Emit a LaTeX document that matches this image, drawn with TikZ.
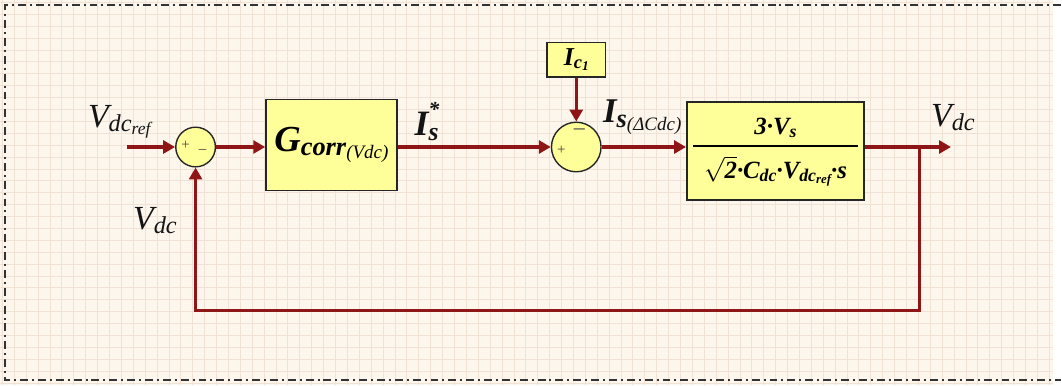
\documentclass[tikz,border=0pt]{standalone}
\usepackage{fontspec}
\setmainfont{Liberation Serif}
\usetikzlibrary{arrows.meta,positioning}
\definecolor{sheet}{HTML}{FDF6EC}
\definecolor{gridln}{HTML}{F0E2D4}
\definecolor{wire}{HTML}{8E1616}
\definecolor{blockfill}{HTML}{FFFF99}
\newcommand{\lw}[1]{\raisebox{-.12em}{\scalebox{.72}{#1}}}

\begin{document}
\begin{tikzpicture}[x=1pt, y=-1pt,
    every node/.style={align=center},
    lbl/.style={font=\fontsize{34}{36}\selectfont\itshape, text=black!92, inner sep=0pt},
    blk/.style={rectangle, draw=black!85, line width=1.6pt, fill=blockfill, inner sep=0pt},
    sumpt/.style={circle, draw=black!85, line width=1.4pt, fill=blockfill, inner sep=0pt},
    sgn/.style={font=\fontsize{15}{15}\selectfont, text=black!75, inner sep=0pt},
    arr/.style={-{Triangle[length=12pt,width=13pt]}, line width=3.2pt, draw=wire},
    back/.style={line width=3.2pt, draw=wire}
  ]
  % sheet with grid and frame
  \fill[sheet] (0,0) rectangle (1062,388);
  \foreach \gx in {2,14,...,1062} \draw[gridln, line width=.6pt] (\gx,0) -- (\gx,388);
  \foreach \gy in {2,14,...,388} \draw[gridln, line width=.6pt] (0,\gy) -- (1062,\gy);
  \draw[black!80, line width=2pt, dash pattern=on 8pt off 4pt on 2pt off 4pt]
    (1070,5) -- (5,5) -- (5,383) -- (1070,383);

  % blocks
  \node[sumpt, minimum size=40pt] (s1) at (197,148) {};
  \node[sgn] (p1) at (187,146) {+};
  \node[sgn] (m1) at (204,150) {\_};

  \node[blk, minimum width=132pt, minimum height=92pt] (gc) at (334,146)
    {\fontsize{37}{37}\selectfont\bfseries\itshape G\lw{corr\lw{\mdseries(Vdc)}}};

  \node[blk, minimum width=59pt, minimum height=35pt] (ic) at (581,60)
    {\fontsize{26}{26}\selectfont\bfseries\itshape I\lw{c\lw{1}}};

  \node[sumpt, minimum size=50pt] (s2) at (581,148) {};
  \node[sgn] (p2) at (566,151) {+};
  \node[sgn, font=\fontsize{22}{22}\selectfont] (m2) at (584,133) {\textendash};

  \node[blk, minimum width=179pt, minimum height=99pt] (pl) at (782,152) {
    \fontsize{25}{27}\selectfont\bfseries\itshape
    \setlength{\arrayrulewidth}{1.4pt}%
    \begin{tabular}{@{}c@{}}
      \makebox[166pt]{3·V\lw{s}}\\[3pt]\hline
      \rule{0pt}{32pt}$\sqrt{\mbox{\bfseries\itshape 2}}$·C\lw{dc}·V\lw{dc\lw{ref}}·s
    \end{tabular}};

  % labels
  \node[lbl] (vref) at (120,123) {V\lw{dc\lw{ref}}};
  \node[lbl] (vfb) at (156,222) {V\lw{dc}};
  \node[lbl, font=\fontsize{36}{36}\selectfont\bfseries\itshape] (is) at (430,122)
    {I\rlap{\raisebox{.55em}{\scalebox{.6}{*}}}\lw{s}};
  \node[lbl, font=\fontsize{35}{35}\selectfont\bfseries\itshape, anchor=west] (isd) at (608,118)
    {I\raisebox{-.12em}{\scalebox{.76}{s\lw{\mdseries(ΔCdc)}}}};
  \node[lbl] (vout) at (961,118) {V\lw{dc}};

  % connectors
  \coordinate (in) at (128,148);
  \coordinate (out) at (959,148);
  \coordinate (br) at (927,148);
  \coordinate (fb) at (927,313);
  \draw[arr] (in) -- (s1.west);
  \draw[arr] (s1.east) -- (gc.west |- s1.east);
  \draw[arr] (gc.east |- s2.west) -- (s2.west);
  \draw[arr] (ic.south) -- (s2.north);
  \draw[arr] (s2.east) -- (pl.west |- s2.east);
  \draw[arr] (pl.east |- s2.east) -- (out);
  \draw[arr, line join=miter] (br) -- (fb) -| (s1.south);

  \useasboundingbox (0,0) rectangle (1062,388);
\end{tikzpicture}
\end{document}
